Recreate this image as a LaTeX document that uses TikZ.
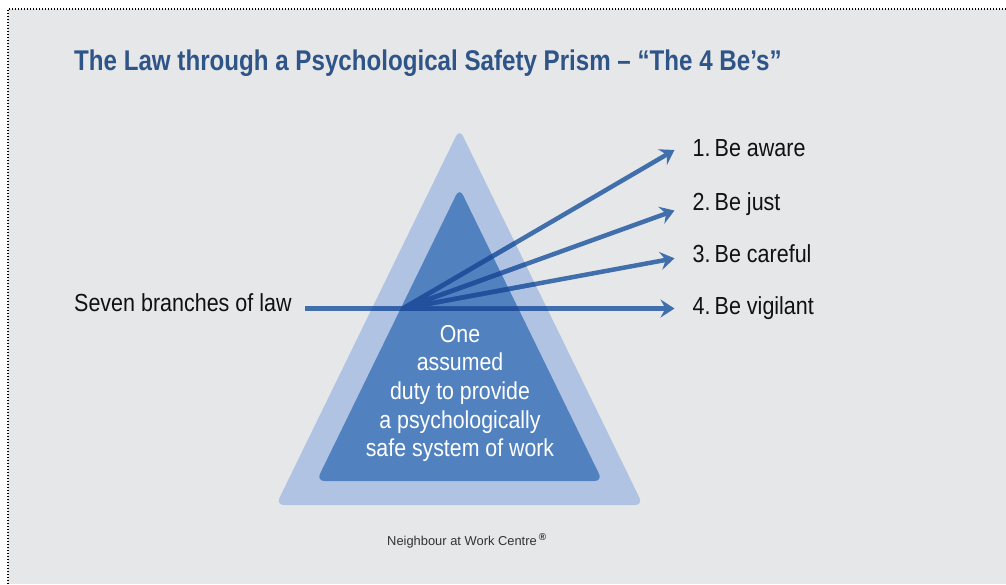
\documentclass[tikz,border=0pt]{standalone}
\usepackage{fontspec}
\setmainfont{Liberation Sans}
\newfontfamily\condfont[FakeStretch=0.87]{Liberation Sans}
\newfontfamily\titlefont[FakeStretch=0.847]{Liberation Sans}
\usetikzlibrary{arrows.meta}
\definecolor{bggrey}{HTML}{E6E7E9}
\definecolor{outerblue}{HTML}{B0C3E3}
\definecolor{innerblue}{HTML}{5182BF}
\definecolor{raycol}{HTML}{416FAC}
\definecolor{raymid}{HTML}{3462A8}
\definecolor{raydark}{HTML}{23509C}
\definecolor{titleblue}{HTML}{2F5487}
\definecolor{labelcol}{HTML}{111111}
\tikzset{raytip/.tip={Stealth[length=14pt,width=18pt,inset=5pt]}}
\begin{document}
\begin{tikzpicture}[x=1pt,y=-1pt,
  bigtext/.style={inner sep=0pt,text=labelcol,font=\condfont\fontsize{24.7}{28.6}\selectfont},
  inbox/.style={inner sep=0pt,text=white,align=center,font=\condfont\fontsize{24.5}{28.6}\selectfont},
  ray/.style={draw=raycol,line width=4.5pt,-raytip},
  rayshade/.style={line width=4.5pt},
  prism/.style={rounded corners=8pt}
]
\useasboundingbox (0,0) rectangle (1006,584);
\fill[white] (0,0) rectangle (1006,584);
\fill[bggrey] (8,9) rectangle (1006,584);
\draw[line width=1.3pt,dash pattern=on 1.3pt off 1.7pt] (1006,9) -- (8,9) -- (8,584);

\node[inner sep=0pt,anchor=base west,text=titleblue,font=\titlefont\bfseries\fontsize{28.5}{32}\selectfont] (title) at (74,70.5)
  {The Law through a Psychological Safety Prism – “The 4 Be’s”};

% prism
\fill[outerblue,prism] (459.5,129) -- (643,505) -- (276,505) -- cycle;
\fill[innerblue,prism] (459.5,188) -- (602.5,481) -- (316.5,481) -- cycle;

\node[inbox] (duty) at (460,393.5) {One\\assumed\\duty to provide\\a psychologically\\safe system of work};

% labels
\node[bigtext,anchor=base west] (law) at (74,311.5) {Seven branches of law};
\node[bigtext,anchor=base west] (be1) at (692.5,156) {1.\,Be aware};
\node[bigtext,anchor=base west] (be2) at (692.5,210.7) {2.\,Be just};
\node[bigtext,anchor=base west] (be3) at (692.5,262.7) {3.\,Be careful};
\node[bigtext,anchor=base west] (be4) at (692.5,314) {4.\,Be vigilant};

\coordinate (start) at (305,308.5);
\coordinate (src) at (403,308.5);
\coordinate (tip1) at (674.5,150);
\coordinate (tip2) at (674.5,210.5);
\coordinate (tip3) at (674.5,258.3);
\coordinate (tip4) at (674.5,308.5);

\draw[ray] (start) -- (tip4);
\draw[ray] (src) -- (tip1);
\draw[ray] (src) -- (tip2);
\draw[ray] (src) -- (tip3);

% darker tint where the rays pass through the prism
\begin{scope}
  \clip[prism] (459.5,129) -- (643,505) -- (276,505) -- cycle;
  \draw[rayshade,raymid] (start) -- (tip4) (src) -- (tip1) (src) -- (tip2) (src) -- (tip3);
\end{scope}
\begin{scope}
  \clip[prism] (459.5,188) -- (602.5,481) -- (316.5,481) -- cycle;
  \draw[rayshade,raydark] (start) -- (tip4) (src) -- (tip1) (src) -- (tip2) (src) -- (tip3);
\end{scope}

\node[inner sep=0pt,anchor=base west,text=black!80,font=\fontsize{12.9}{15}\selectfont] (credit) at (387,545.7)
  {Neighbour at Work Centre\,\raisebox{5pt}{\fontsize{10}{10}\selectfont\bfseries ®}};
\end{tikzpicture}
\end{document}
